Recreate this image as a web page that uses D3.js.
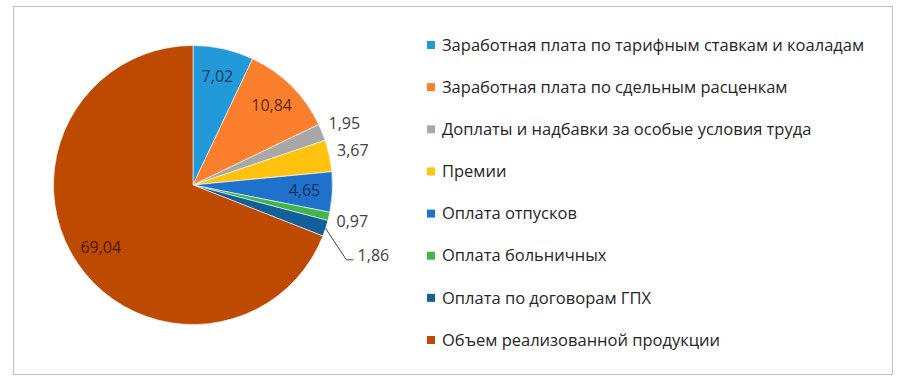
<!DOCTYPE html>
<html>
<head>
<meta charset="utf-8">
<script src="https://cdn.jsdelivr.net/npm/d3@7"></script>
<style>
  body { margin: 0; background: #fff; }
  svg { display: block; font-family: "Open Sans", "Noto Sans", sans-serif; }
</style>
</head>
<body>
<div id="chart"></div>
<script>
// --- Data ---
const categories = [
    "Заработная плата по тарифным ставкам и коаладам",
    "Заработная плата по сдельным расценкам",
    "Доплаты и надбавки за особые условия труда",
    "Премии",
    "Оплата отпусков",
    "Оплата больничных",
    "Оплата по договорам ГПХ",
    "Объем реализованной продукции"
];
const values = [7.02, 10.84, 1.95, 3.67, 4.65, 0.97, 1.86, 69.04];
const valueLabels = ["7,02", "10,84", "1,95", "3,67", "4,65", "0,97", "1,86", "69,04"];

const colors = ["#2299d8", "#fb7f2c", "#a8a8a8", "#ffc20e", "#1f72cc", "#3fb54a", "#125f9c", "#bd4a00"];
const labelColors = ["#15385c", "#5c2a0a", "#404040", "#404040", "#0f2c5c", "#404040", "#404040", "#4a1800"];

const width = 908, height = 382;
const cx = 193, cy = 185, radius = 139.5;

const svg = d3.select("#chart").append("svg")
    .attr("width", width)
    .attr("height", height);

// frame
svg.append("rect")
    .attr("x", 13.5).attr("y", 6.5)
    .attr("width", 879).attr("height", 368)
    .attr("fill", "#fff")
    .attr("stroke", "#c4c4c4")
    .attr("stroke-width", 1.2);

const data = values.map((v, i) => ({ name: categories[i], value: v, label: valueLabels[i], i }));

const pie = d3.pie().sort(null).value(d => d.value);
const arcs = pie(data);
const arc = d3.arc().innerRadius(0).outerRadius(radius);

const g = svg.append("g").attr("transform", `translate(${cx},${cy})`);

g.selectAll("path.slice")
    .data(arcs)
    .join("path")
    .attr("class", "slice")
    .attr("d", arc)
    .attr("fill", d => colors[d.data.i])
    .attr("stroke", "#fff")
    .attr("stroke-width", 0.6);

// --- Data labels ---
const inner = d3.arc().innerRadius(radius * 0.8).outerRadius(radius * 0.8);
const outer = d3.arc().innerRadius(radius + 24).outerRadius(radius + 24);

arcs.forEach(d => {
    const small = d.data.value < 4;
    let [x, y] = small ? outer.centroid(d) : inner.centroid(d);
    if (d.data.i === 6) {
        // pushed down, with a leader line
        const mid = (d.startAngle + d.endAngle) / 2;
        const sx = Math.sin(mid) * radius, sy = -Math.cos(mid) * radius;
        const lx = x, ly = y + 24;
        g.append("polyline")
            .attr("points", `${sx},${sy} ${lx - 2},${ly} ${lx + 5},${ly}`)
            .attr("fill", "none")
            .attr("stroke", "#404040")
            .attr("stroke-width", 1);
        x = lx + 25; y = ly - 4;
    }
    g.append("text")
        .attr("x", x)
        .attr("y", y)
        .attr("dy", "0.35em")
        .attr("text-anchor", "middle")
        .attr("font-size", "16px")
        .attr("fill", labelColors[d.data.i])
        .text(d.data.label);
});

// --- Legend ---
const legendY = d3.scalePoint().domain(d3.range(categories.length)).range([45, 340]);
const legend = svg.append("g").attr("transform", "translate(427,0)");

categories.forEach((c, i) => {
    const row = legend.append("g").attr("transform", `translate(0,${legendY(i)})`);
    row.append("rect")
        .attr("x", 0).attr("y", -4)
        .attr("width", 8).attr("height", 8)
        .attr("fill", colors[i]);
    row.append("text")
        .attr("x", 15)
        .attr("y", 0)
        .attr("dy", "0.35em")
        .attr("font-size", "16.5px")
        .attr("fill", "#262626")
        .text(c);
});
</script>
</body>
</html>
